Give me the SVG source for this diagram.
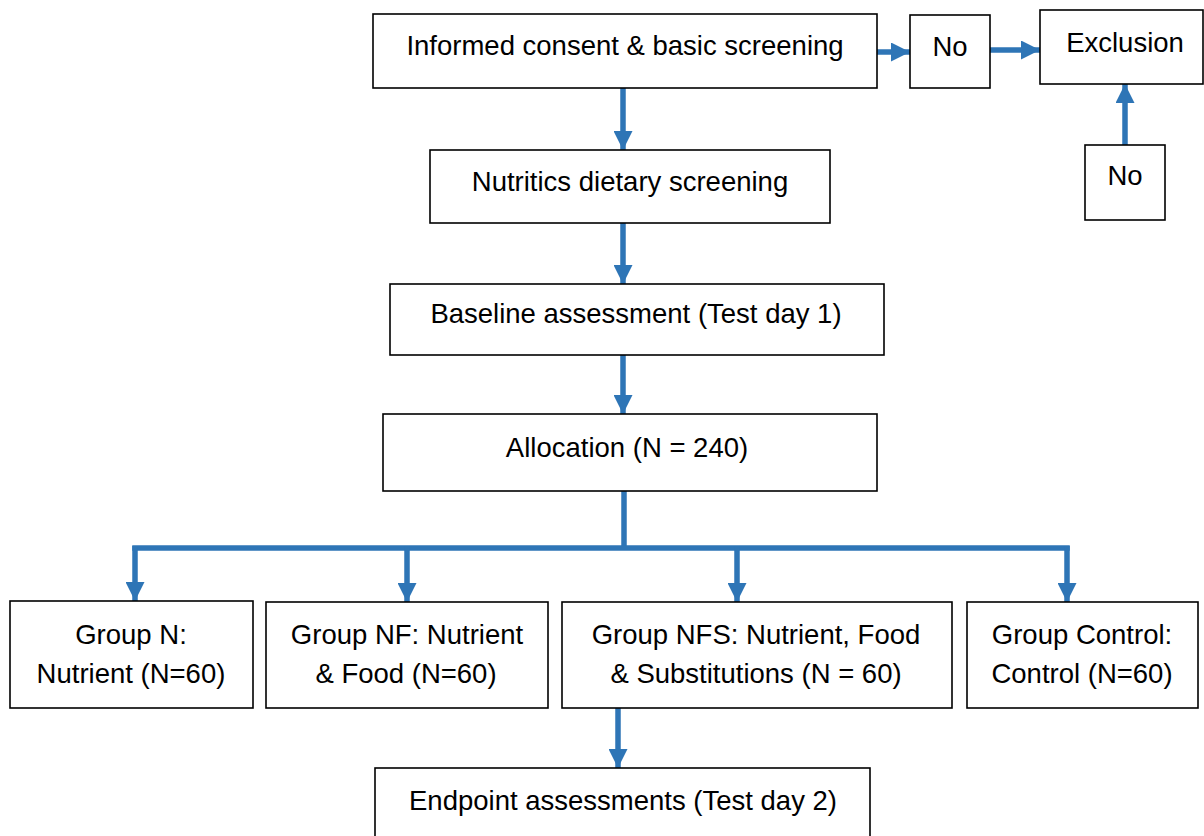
<svg xmlns="http://www.w3.org/2000/svg" width="1204" height="836" viewBox="0 0 1204 836">
<style>
.box{fill:#fff;stroke:#000;stroke-width:1.6}
.t{font-family:"Liberation Sans",Arial,sans-serif;font-size:27.5px;fill:#000;text-anchor:middle}
.c{fill:none;stroke:#2E75B6;stroke-width:5.5}
</style>
<defs>
<marker id="ah" markerUnits="userSpaceOnUse" markerWidth="19" markerHeight="19" refX="19" refY="9.5" orient="auto">
<path d="M0,0 L19,9.5 L0,19 z" fill="#2E75B6"/>
</marker>
</defs>
<rect width="1204" height="836" fill="#fff"/>
<g id="connectors">
<path class="c" d="M623,88 L623,150" marker-end="url(#ah)"/>
<path class="c" d="M877,52 L910,52" marker-end="url(#ah)"/>
<path class="c" d="M990,50 L1040,50" marker-end="url(#ah)"/>
<path class="c" d="M1125,145 L1125,84" marker-end="url(#ah)"/>
<path class="c" d="M623,223 L623,284" marker-end="url(#ah)"/>
<path class="c" d="M623,355 L623,414" marker-end="url(#ah)"/>
<path class="c" d="M624,491 L624,548"/>
<path class="c" d="M135,548 L1067,548" stroke-linecap="square"/>
<path class="c" d="M135,546 L135,601" marker-end="url(#ah)"/>
<path class="c" d="M407,546 L407,602" marker-end="url(#ah)"/>
<path class="c" d="M737,546 L737,602" marker-end="url(#ah)"/>
<path class="c" d="M1067,546 L1067,602" marker-end="url(#ah)"/>
<path class="c" d="M618,708 L618,768" marker-end="url(#ah)"/>
</g>
<g id="n-consent"><rect class="box" x="373" y="14" width="504" height="74"/><text class="t" x="625" y="55">Informed consent &amp; basic screening</text></g>
<g id="n-no1"><rect class="box" x="910" y="15" width="80" height="73"/><text class="t" x="950" y="56">No</text></g>
<g id="n-exclusion"><rect class="box" x="1040" y="10" width="163" height="74"/><text class="t" x="1125" y="52">Exclusion</text></g>
<g id="n-no2"><rect class="box" x="1085" y="145" width="80" height="75"/><text class="t" x="1125" y="185">No</text></g>
<g id="n-nutritics"><rect class="box" x="430" y="150" width="400" height="73"/><text class="t" x="630" y="191">Nutritics dietary screening</text></g>
<g id="n-baseline"><rect class="box" x="390" y="284" width="494" height="71"/><text class="t" x="636" y="323">Baseline assessment (Test day 1)</text></g>
<g id="n-allocation"><rect class="box" x="383" y="414" width="494" height="77"/><text class="t" x="627" y="457">Allocation (N = 240)</text></g>
<g id="n-groupN"><rect class="box" x="10" y="601" width="243" height="107"/><text class="t" x="131" y="644">Group N:</text><text class="t" x="131" y="683">Nutrient (N=60)</text></g>
<g id="n-groupNF"><rect class="box" x="266" y="602" width="282" height="106"/><text class="t" x="407" y="644">Group NF: Nutrient</text><text class="t" x="406" y="683">&amp; Food (N=60)</text></g>
<g id="n-groupNFS"><rect class="box" x="562" y="602" width="390" height="106"/><text class="t" x="756" y="644">Group NFS: Nutrient, Food</text><text class="t" x="756" y="683">&amp; Substitutions (N = 60)</text></g>
<g id="n-control"><rect class="box" x="967" y="602" width="231" height="106"/><text class="t" x="1082" y="644">Group Control:</text><text class="t" x="1082" y="683">Control (N=60)</text></g>
<g id="n-endpoint"><rect class="box" x="375" y="768" width="495" height="80"/><text class="t" x="623" y="810">Endpoint assessments (Test day 2)</text></g>
</svg>
